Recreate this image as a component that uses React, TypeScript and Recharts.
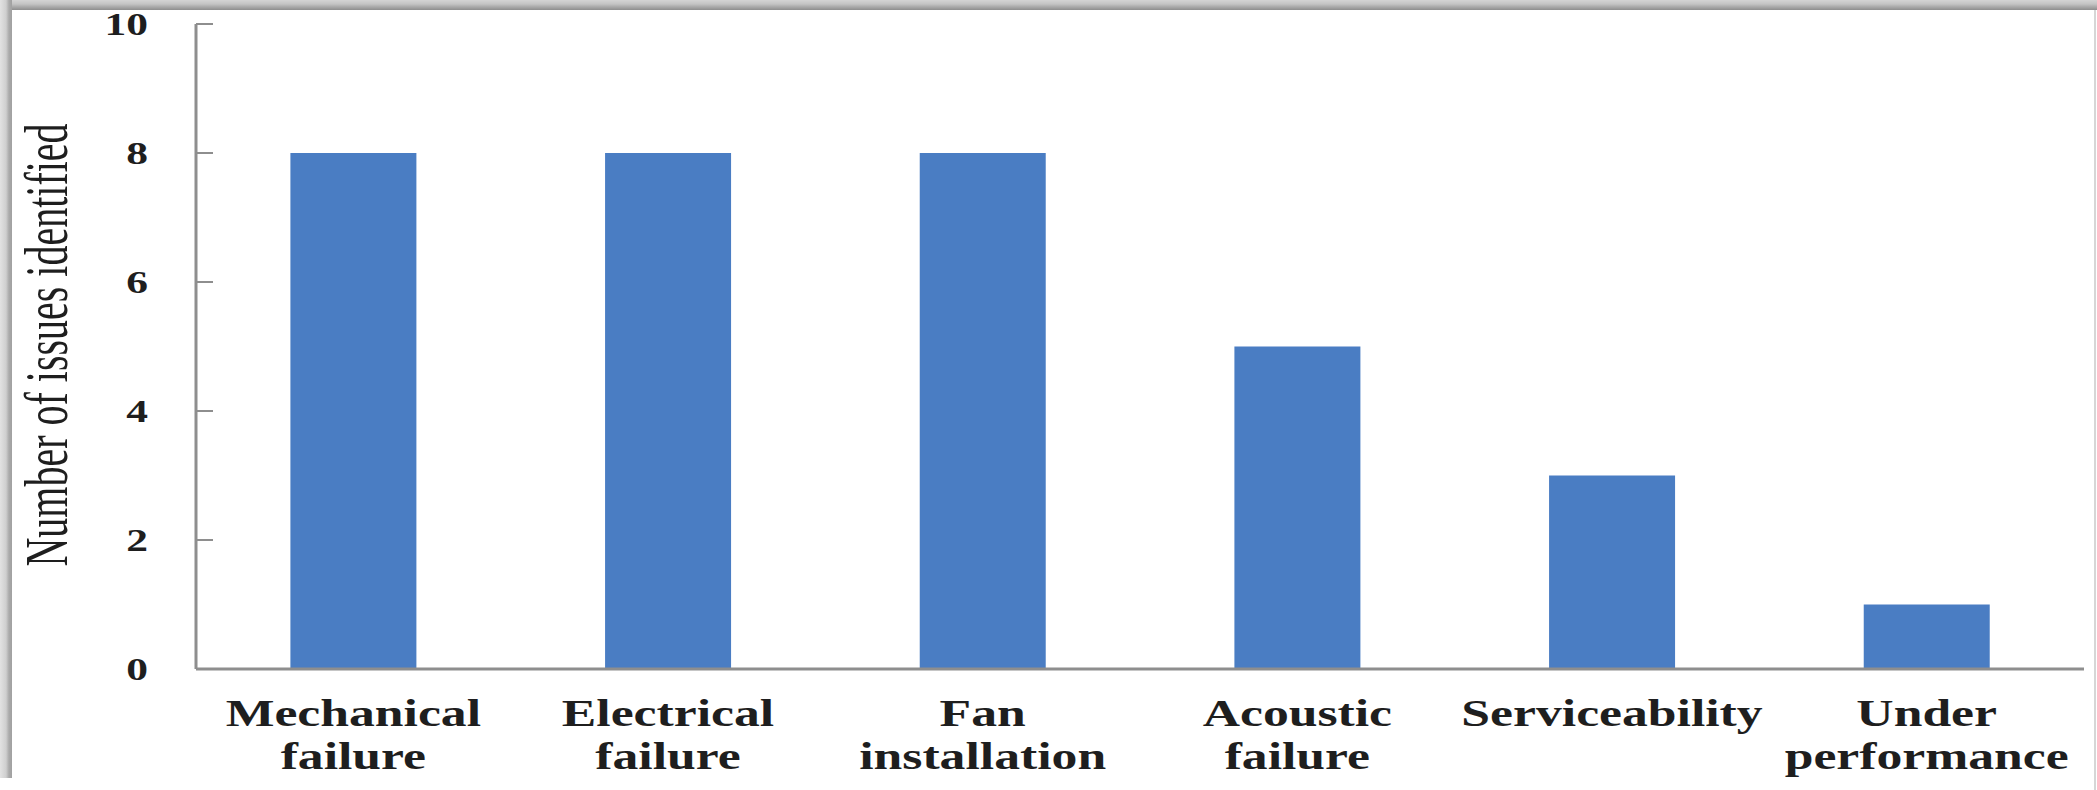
import React from 'react';
import { BarChart, Bar, XAxis, YAxis } from 'recharts';

const categories = [
    'Mechanical failure',
    'Electrical failure',
    'Fan installation',
    'Acoustic failure',
    'Serviceability',
    'Under performance',
];
const tickLines = [
    ['Mechanical', 'failure'],
    ['Electrical', 'failure'],
    ['Fan', 'installation'],
    ['Acoustic', 'failure'],
    ['Serviceability'],
    ['Under', 'performance'],
];
const issues = [8, 8, 8, 5, 3, 1];
const yTicks = [0, 2, 4, 6, 8, 10];

const data = categories.map((name, i) => ({ name, issues: issues[i] }));

const W = 2097;
const H = 790;
const SERIF = '"Liberation Serif", "Times New Roman", serif';
const AXIS_GREY = '#8e8e8e';

const XTick = (props: any) => {
    const { x, y, payload } = props;
    const idx = categories.indexOf(payload.value);
    const lines = tickLines[idx] || [payload.value];
    return (
        <g transform={`translate(${x},${y}) scale(1.36,1)`}>
            {lines.map((l, i) => (
                <text key={i} x={0} y={55 + i * 43} textAnchor="middle" fontFamily={SERIF}
                    fontWeight="bold" fontSize={38} fill="#1e1e1e">
                    {l}
                </text>
            ))}
        </g>
    );
};

const YTick = (props: any) => {
    const { x, y, payload } = props;
    return (
        <g>
            <line x1={x} y1={y} x2={x + 17} y2={y} stroke={AXIS_GREY} strokeWidth={2} />
            <g transform={`translate(${x - 48},${y + 11}) scale(1.36,1)`}>
                <text x={0} y={0} textAnchor="end" fontFamily={SERIF} fontWeight="bold"
                    fontSize={32} fill="#1e1e1e">
                    {payload.value}
                </text>
            </g>
        </g>
    );
};

const YLabel = () => (
    <text transform="translate(67,345) scale(1.55,1) rotate(-90)" textAnchor="middle"
        fontFamily={SERIF} fontSize={40} fill="#1e1e1e">
        Number of issues identified
    </text>
);

export default function App() {
    return (
        <div style={{ position: 'absolute', left: 0, top: 0, width: W, height: H, background: '#fff', overflow: 'hidden' }}>
            {/* frame like the screenshot */}
            <div style={{ position: 'absolute', left: 0, top: 0, width: W, height: 10,
                background: 'linear-gradient(#d4d4d4 0%, #c4c4c4 40%, #a8a8a8 70%, #8e8e8e 100%)' }} />
            <div style={{ position: 'absolute', left: 0, top: 0, width: 12, height: 778,
                background: 'linear-gradient(90deg, #e2e2e2 0%, #cfcfcf 50%, #aaaaaa 75%, #a0a0a0 100%)' }} />
            <div style={{ position: 'absolute', left: 2094, top: 10, width: 2, height: 780, background: '#d6d6d6' }} />
            <div style={{ position: 'absolute', left: 0, top: 0 }}>
                <BarChart width={W} height={H} data={data}
                    margin={{ top: 24, right: 13, bottom: 0, left: 0 }} barCategoryGap="30%">
                    <XAxis dataKey="name" height={121} interval={0} tickSize={0} tickLine={false}
                        axisLine={{ stroke: AXIS_GREY, strokeWidth: 3 }} tick={<XTick />} />
                    <YAxis width={196} domain={[0, 10]} ticks={yTicks} tickSize={0} tickMargin={0}
                        tickLine={false} axisLine={{ stroke: AXIS_GREY, strokeWidth: 3 }}
                        tick={<YTick />} label={<YLabel />} />
                    <Bar dataKey="issues" fill="#4a7dc3" isAnimationActive={false} />
                </BarChart>
            </div>
        </div>
    );
}
